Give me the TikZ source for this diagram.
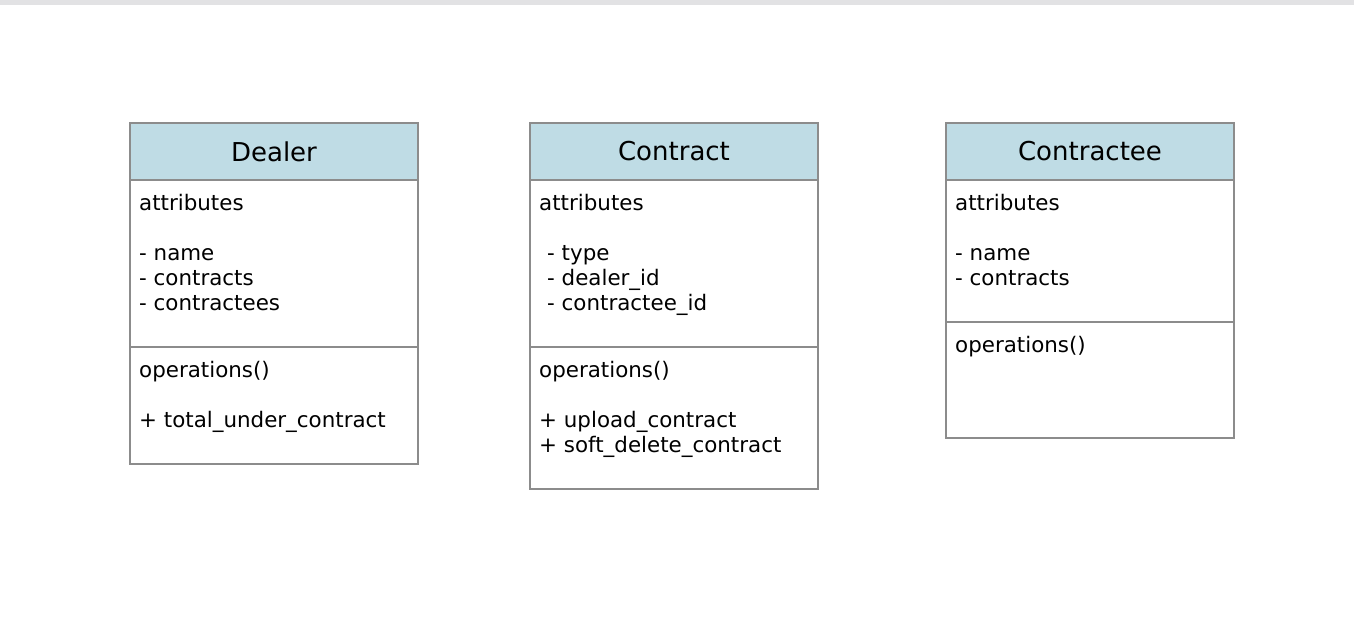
\documentclass[tikz,border=0pt]{standalone}
\usepackage{fontspec}
\setmainfont{DejaVu Sans}
\usepackage{xcolor}
\usepackage{tikz}
\usetikzlibrary{positioning}
\definecolor{headblue}{HTML}{BFDCE5}
\definecolor{boxgray}{HTML}{8C8C8C}
\definecolor{bargray}{HTML}{E2E2E4}

\begin{document}
\begin{tikzpicture}[x=1pt, y=-1pt, node distance=0pt,
    classhead/.style={draw=boxgray, line width=1.5pt, fill=headblue, minimum width=288pt, minimum height=57pt, outer sep=0pt, inner sep=0pt, font=\fontsize{26}{30}\selectfont},
    compart/.style={draw=boxgray, line width=1.5pt, minimum width=288pt, outer sep=0pt, inner sep=0pt},
    members/.style={inner sep=0pt, align=left, font=\fontsize{21.4}{25}\selectfont}]
        \useasboundingbox (0,0) rectangle (1354,620);
        \fill[bargray] (0,0) rectangle (1354,5);

        % Dealer
        \node (dealer) [classhead, anchor=north west] at (130,123) {Dealer};
        \node (dealerAttr) [compart, minimum height=167pt, below=of dealer] {};
        \node (dealerOps) [compart, minimum height=117pt, below=of dealerAttr] {};
        \node (dealerAttrTxt) [members, below right=14pt and 9pt of dealerAttr.north west] {attributes\\[25pt]- name\\- contracts\\- contractees};
        \node (dealerOpsTxt) [members, below right=14pt and 9pt of dealerOps.north west] {operations()\\[25pt]+ total\_under\_contract};

        % Contract
        \node (contract) [classhead, anchor=north west] at (530,123) {Contract};
        \node (contractAttr) [compart, minimum height=167pt, below=of contract] {};
        \node (contractOps) [compart, minimum height=142pt, below=of contractAttr] {};
        \node (contractAttrTxt) [members, below right=14pt and 9pt of contractAttr.north west] {attributes\\[25pt]\hspace*{8pt}- type\\\hspace*{8pt}- dealer\_id\\\hspace*{8pt}- contractee\_id};
        \node (contractOpsTxt) [members, below right=14pt and 9pt of contractOps.north west] {operations()\\[25pt]+ upload\_contract\\+ soft\_delete\_contract};

        % Contractee
        \node (contractee) [classhead, anchor=north west] at (946,123) {Contractee};
        \node (contracteeAttr) [compart, minimum height=142pt, below=of contractee] {};
        \node (contracteeOps) [compart, minimum height=116pt, below=of contracteeAttr] {};
        \node (contracteeAttrTxt) [members, below right=14pt and 9pt of contracteeAttr.north west] {attributes\\[25pt]- name\\- contracts};
        \node (contracteeOpsTxt) [members, below right=14pt and 9pt of contracteeOps.north west] {operations()};
    \end{tikzpicture}
\end{document}
